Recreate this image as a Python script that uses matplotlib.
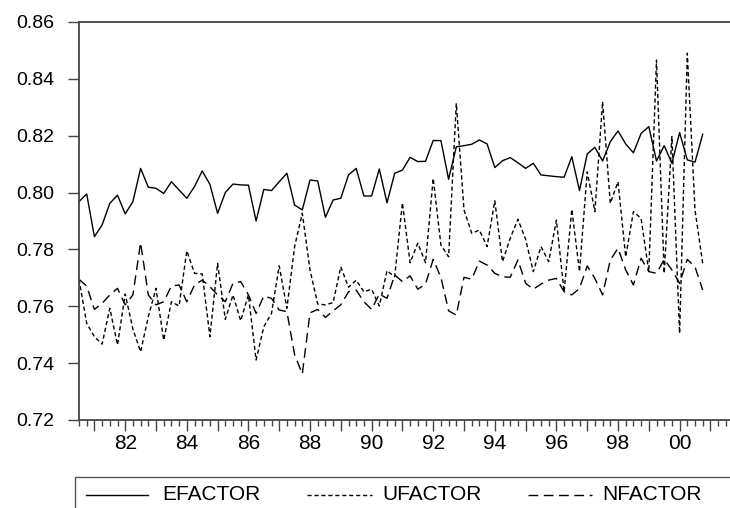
import numpy as np
import matplotlib
matplotlib.use("Agg")
import matplotlib.pyplot as plt
from matplotlib.lines import Line2D
from matplotlib.patches import Rectangle
from matplotlib.ticker import FixedLocator, MultipleLocator, FuncFormatter

plt.rcParams['font.family'] = ['Liberation Sans', 'DejaVu Sans']

# quarterly data, 1980Q3 .. 2000Q4
start_year = 1980.5

efactor = [0.7968, 0.7995, 0.7845, 0.7886, 0.7962, 0.7991, 0.7925, 0.7968, 0.8085, 0.8019,
           0.8015, 0.7997, 0.8038, 0.8009, 0.7980, 0.8021, 0.8076, 0.8029, 0.7927, 0.8000,
           0.8030, 0.8027, 0.8026, 0.7900, 0.8011, 0.8007, 0.8038, 0.8068, 0.7956, 0.7939,
           0.8044, 0.8041, 0.7913, 0.7974, 0.7980, 0.8062, 0.8085, 0.7988, 0.7988, 0.8083,
           0.7964, 0.8068, 0.8079, 0.8124, 0.8109, 0.8110, 0.8183, 0.8183, 0.8047, 0.8161,
           0.8165, 0.8170, 0.8185, 0.8171, 0.8088, 0.8112, 0.8123, 0.8105, 0.8085, 0.8103,
           0.8062, 0.8059, 0.8056, 0.8054, 0.8126, 0.8007, 0.8136, 0.8159, 0.8111, 0.8179,
           0.8217, 0.8171, 0.8140, 0.8208, 0.8232, 0.8111, 0.8165, 0.8103, 0.8211, 0.8115,
           0.8107, 0.8205]

ufactor = [0.7695, 0.7540, 0.7493, 0.7467, 0.7593, 0.7464, 0.7643, 0.7520, 0.7440, 0.7563,
           0.7663, 0.7481, 0.7616, 0.7601, 0.7795, 0.7716, 0.7714, 0.7493, 0.7751, 0.7554,
           0.7640, 0.7549, 0.7640, 0.7411, 0.7528, 0.7575, 0.7742, 0.7593, 0.7810, 0.7927,
           0.7728, 0.7608, 0.7605, 0.7613, 0.7739, 0.7667, 0.7692, 0.7651, 0.7660, 0.7601,
           0.7725, 0.7704, 0.7964, 0.7753, 0.7822, 0.7753, 0.8050, 0.7816, 0.7774, 0.8314,
           0.7939, 0.7857, 0.7868, 0.7810, 0.7971, 0.7757, 0.7839, 0.7906, 0.7836, 0.7722,
           0.7810, 0.7757, 0.7903, 0.7651, 0.7941, 0.7722, 0.8073, 0.7933, 0.8320, 0.7962,
           0.8038, 0.7774, 0.7933, 0.7909, 0.7722, 0.8466, 0.7716, 0.8197, 0.7505, 0.8490,
           0.7939, 0.7751]

nfactor = [0.7695, 0.7671, 0.7589, 0.7610, 0.7640, 0.7663, 0.7605, 0.7640, 0.7824, 0.7640,
           0.7605, 0.7616, 0.7671, 0.7675, 0.7616, 0.7675, 0.7692, 0.7669, 0.7640, 0.7616,
           0.7681, 0.7687, 0.7640, 0.7575, 0.7636, 0.7628, 0.7587, 0.7581, 0.7430, 0.7362,
           0.7577, 0.7589, 0.7561, 0.7584, 0.7605, 0.7651, 0.7657, 0.7616, 0.7589, 0.7643,
           0.7628, 0.7710, 0.7687, 0.7707, 0.7660, 0.7678, 0.7765, 0.7702, 0.7584, 0.7569,
           0.7702, 0.7695, 0.7759, 0.7745, 0.7716, 0.7704, 0.7702, 0.7763, 0.7681, 0.7660,
           0.7678, 0.7692, 0.7698, 0.7651, 0.7640, 0.7663, 0.7742, 0.7698, 0.7640, 0.7763,
           0.7804, 0.7728, 0.7675, 0.7769, 0.7722, 0.7716, 0.7765, 0.7728, 0.7681, 0.7765,
           0.7739, 0.7657]

series_names = ['EFACTOR', 'UFACTOR', 'NFACTOR']

t = start_year + np.arange(len(efactor)) / 4.0

W, H = 730, 508
fig = plt.figure(figsize=(W / 100, H / 100), dpi=100)
ax = fig.add_axes([79 / W, 1 - 420 / H, (W - 79) / W, 398 / H])

styles = [dict(ls='-'), dict(dashes=(3, 2)), dict(dashes=(7, 4))]
for y, st in zip([efactor, ufactor, nfactor], styles):
    ax.plot(t, y, color='black', lw=1.0, **st)

ax.set_xlim(start_year, start_year + (W - 79) / 30.8)
ax.set_ylim(0.72, 0.86)

# axis frame like eviews: left, top, bottom
spine_col = '#444444'
for s in ['left', 'top', 'bottom']:
    ax.spines[s].set_color(spine_col)
    ax.spines[s].set_linewidth(1.3)
ax.spines['right'].set_visible(False)

ax.yaxis.set_major_locator(MultipleLocator(0.02))
ax.yaxis.set_major_formatter(FuncFormatter(lambda v, p: '%.2f' % v))
ax.tick_params(axis='y', direction='out', length=8, width=1, color=spine_col,
               labelsize=14, pad=10)

years = np.arange(1981, 2002)
ax.xaxis.set_major_locator(FixedLocator(years))
ax.xaxis.set_major_formatter(FuncFormatter(
    lambda v, p: '%02d' % (int(round(v)) % 100) if int(round(v)) % 2 == 0 else ''))
ax.xaxis.set_minor_locator(MultipleLocator(0.25))
ax.tick_params(axis='x', which='major', direction='out', length=8, width=1,
               color=spine_col, labelsize=15, pad=2)
ax.tick_params(axis='x', which='minor', direction='out', length=4, width=1,
               color=spine_col)

# legend box at the bottom
fig.patches.append(Rectangle((75 / W, -0.02), 1, (508 - 477) / H + 0.02,
                             transform=fig.transFigure, fill=False,
                             edgecolor='#555555', lw=1.0))
ly = 1 - 495 / H
line_x = [(86, 148), (307, 372), (528, 592)]
text_x = [162, 382, 602]
for name, st, (x0, x1), tx in zip(series_names, styles, line_x, text_x):
    fig.lines.append(Line2D([x0 / W, x1 / W], [ly, ly], transform=fig.transFigure,
                            color='black', lw=1.0, **st))
    fig.text(tx / W, ly, name, fontsize=15, va='center', ha='left')

fig.savefig('out.png', dpi=100)
